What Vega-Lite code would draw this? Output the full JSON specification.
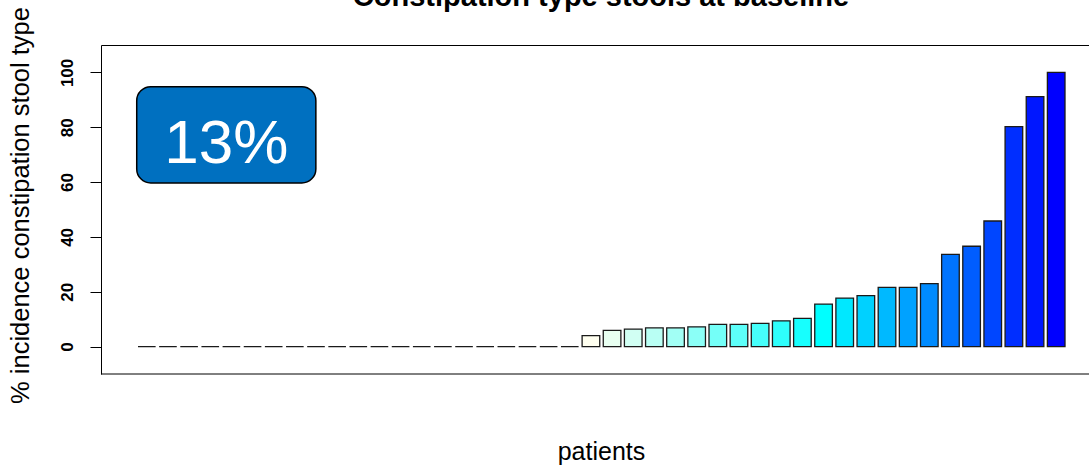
{
  "$schema": "https://vega.github.io/schema/vega-lite/v6.json",
  "autosize": {"type": "none"},
  "padding": {"left": 101, "top": 45, "right": 0, "bottom": 95},
  "width": 988,
  "height": 329,
  "background": "white",
  "config": {
    "font": "Liberation Sans",
    "view": {"stroke": null},
    "axis": {"grid": false, "domainColor": "black", "tickColor": "black", "labelColor": "black", "titleColor": "black"}
  },
  "title": {
    "text": "Constipation type stools at baseline",
    "fontSize": 29,
    "fontWeight": "bold",
    "font": "Liberation Sans",
    "color": "black",
    "anchor": "middle",
    "baseline": "alphabetic",
    "offset": 0,
    "dy": 28,
    "dx": 6
  },
  "data": {
    "values": [
      {"patient": 1, "pct": 0}, {"patient": 2, "pct": 0}, {"patient": 3, "pct": 0}, {"patient": 4, "pct": 0},
      {"patient": 5, "pct": 0}, {"patient": 6, "pct": 0}, {"patient": 7, "pct": 0}, {"patient": 8, "pct": 0},
      {"patient": 9, "pct": 0}, {"patient": 10, "pct": 0}, {"patient": 11, "pct": 0}, {"patient": 12, "pct": 0},
      {"patient": 13, "pct": 0}, {"patient": 14, "pct": 0}, {"patient": 15, "pct": 0}, {"patient": 16, "pct": 0},
      {"patient": 17, "pct": 0}, {"patient": 18, "pct": 0}, {"patient": 19, "pct": 0}, {"patient": 20, "pct": 0},
      {"patient": 21, "pct": 0},
      {"patient": 22, "pct": 4.0}, {"patient": 23, "pct": 5.9}, {"patient": 24, "pct": 6.4}, {"patient": 25, "pct": 6.8},
      {"patient": 26, "pct": 6.8}, {"patient": 27, "pct": 7.2}, {"patient": 28, "pct": 8.1}, {"patient": 29, "pct": 8.1},
      {"patient": 30, "pct": 8.5}, {"patient": 31, "pct": 9.4}, {"patient": 32, "pct": 10.3}, {"patient": 33, "pct": 15.5},
      {"patient": 34, "pct": 17.7}, {"patient": 35, "pct": 18.6}, {"patient": 36, "pct": 21.6}, {"patient": 37, "pct": 21.6},
      {"patient": 38, "pct": 23.0}, {"patient": 39, "pct": 33.6}, {"patient": 40, "pct": 36.6}, {"patient": 41, "pct": 45.8},
      {"patient": 42, "pct": 80.2}, {"patient": 43, "pct": 91.2}, {"patient": 44, "pct": 100}
    ]
  },
  "layer": [
    {
      "mark": {"type": "bar", "stroke": "#1a1a1a", "strokeWidth": 1.3, "cornerRadius": 0},
      "encoding": {
        "x": {
          "field": "patient", "type": "ordinal",
          "scale": {"range": [37, 964], "paddingInner": 0.1667, "paddingOuter": 0},
          "axis": {
            "title": "patients", "labels": false, "ticks": false, "domain": false,
            "titleFontSize": 25, "titleFontWeight": "normal", "titleFont": "Liberation Sans",
            "titleBaseline": "alphabetic", "titleY": 85, "titleX": 500, "titleAlign": "center"
          }
        },
        "y": {
          "field": "pct", "type": "quantitative",
          "scale": {"domain": [-10, 110], "nice": false, "zero": false},
          "axis": {
            "title": "% incidence constipation stool type",
            "values": [0, 20, 40, 60, 80, 100],
            "tickSize": 11, "labelFontSize": 17, "labelFontWeight": "bold", "labelFont": "Liberation Sans",
            "labelAngle": 270, "labelAlign": "center", "labelBaseline": "alphabetic", "labelPadding": 18,
            "domainWidth": 1,
            "titleFontSize": 25.5, "titleFontWeight": "normal", "titleFont": "Liberation Sans",
            "titleAngle": 270, "titleBaseline": "alphabetic", "titleAlign": "center", "titleX": -73, "titleY": 160
          }
        },
        "y2": {"datum": 0},
        "color": {
          "field": "patient", "type": "quantitative",
          "scale": {"domain": [22, 33, 44], "range": ["#FFFFF0", "#00FFFF", "#0000FF"], "interpolate": "rgb", "clamp": true},
          "legend": null
        }
      }
    },
    {
      "data": {"values": [{"label": "13%"}]},
      "layer": [
        {
          "mark": {"type": "rect", "fill": "#0070C0", "stroke": "black", "strokeWidth": 1.5, "cornerRadius": 14},
          "encoding": {
            "x": {"datum": 0.15, "type": "quantitative", "scale": {"domain": [-1.904, 54.904], "nice": false, "zero": false},
                  "axis": {"orient": "top", "labels": false, "ticks": false, "title": null, "domain": true, "domainWidth": 1, "domainColor": "black"}},
            "x2": {"datum": 10.45},
            "y": {"datum": 94.8},
            "y2": {"datum": 59.7}
          }
        },
        {
          "mark": {"type": "text", "color": "white", "fontSize": 62, "font": "Liberation Sans", "align": "center", "baseline": "alphabetic"},
          "encoding": {
            "x": {"datum": 5.3, "type": "quantitative"},
            "y": {"datum": 67.0},
            "text": {"field": "label"}
          }
        },
        {
          "mark": {"type": "rule", "stroke": "black", "strokeWidth": 1},
          "encoding": {
            "y": {"datum": -10},
            "x": {"datum": -1.904, "type": "quantitative"},
            "x2": {"datum": 54.904}
          }
        }
      ]
    }
  ],
  "resolve": {"scale": {"x": "independent", "color": "independent"}}
}
